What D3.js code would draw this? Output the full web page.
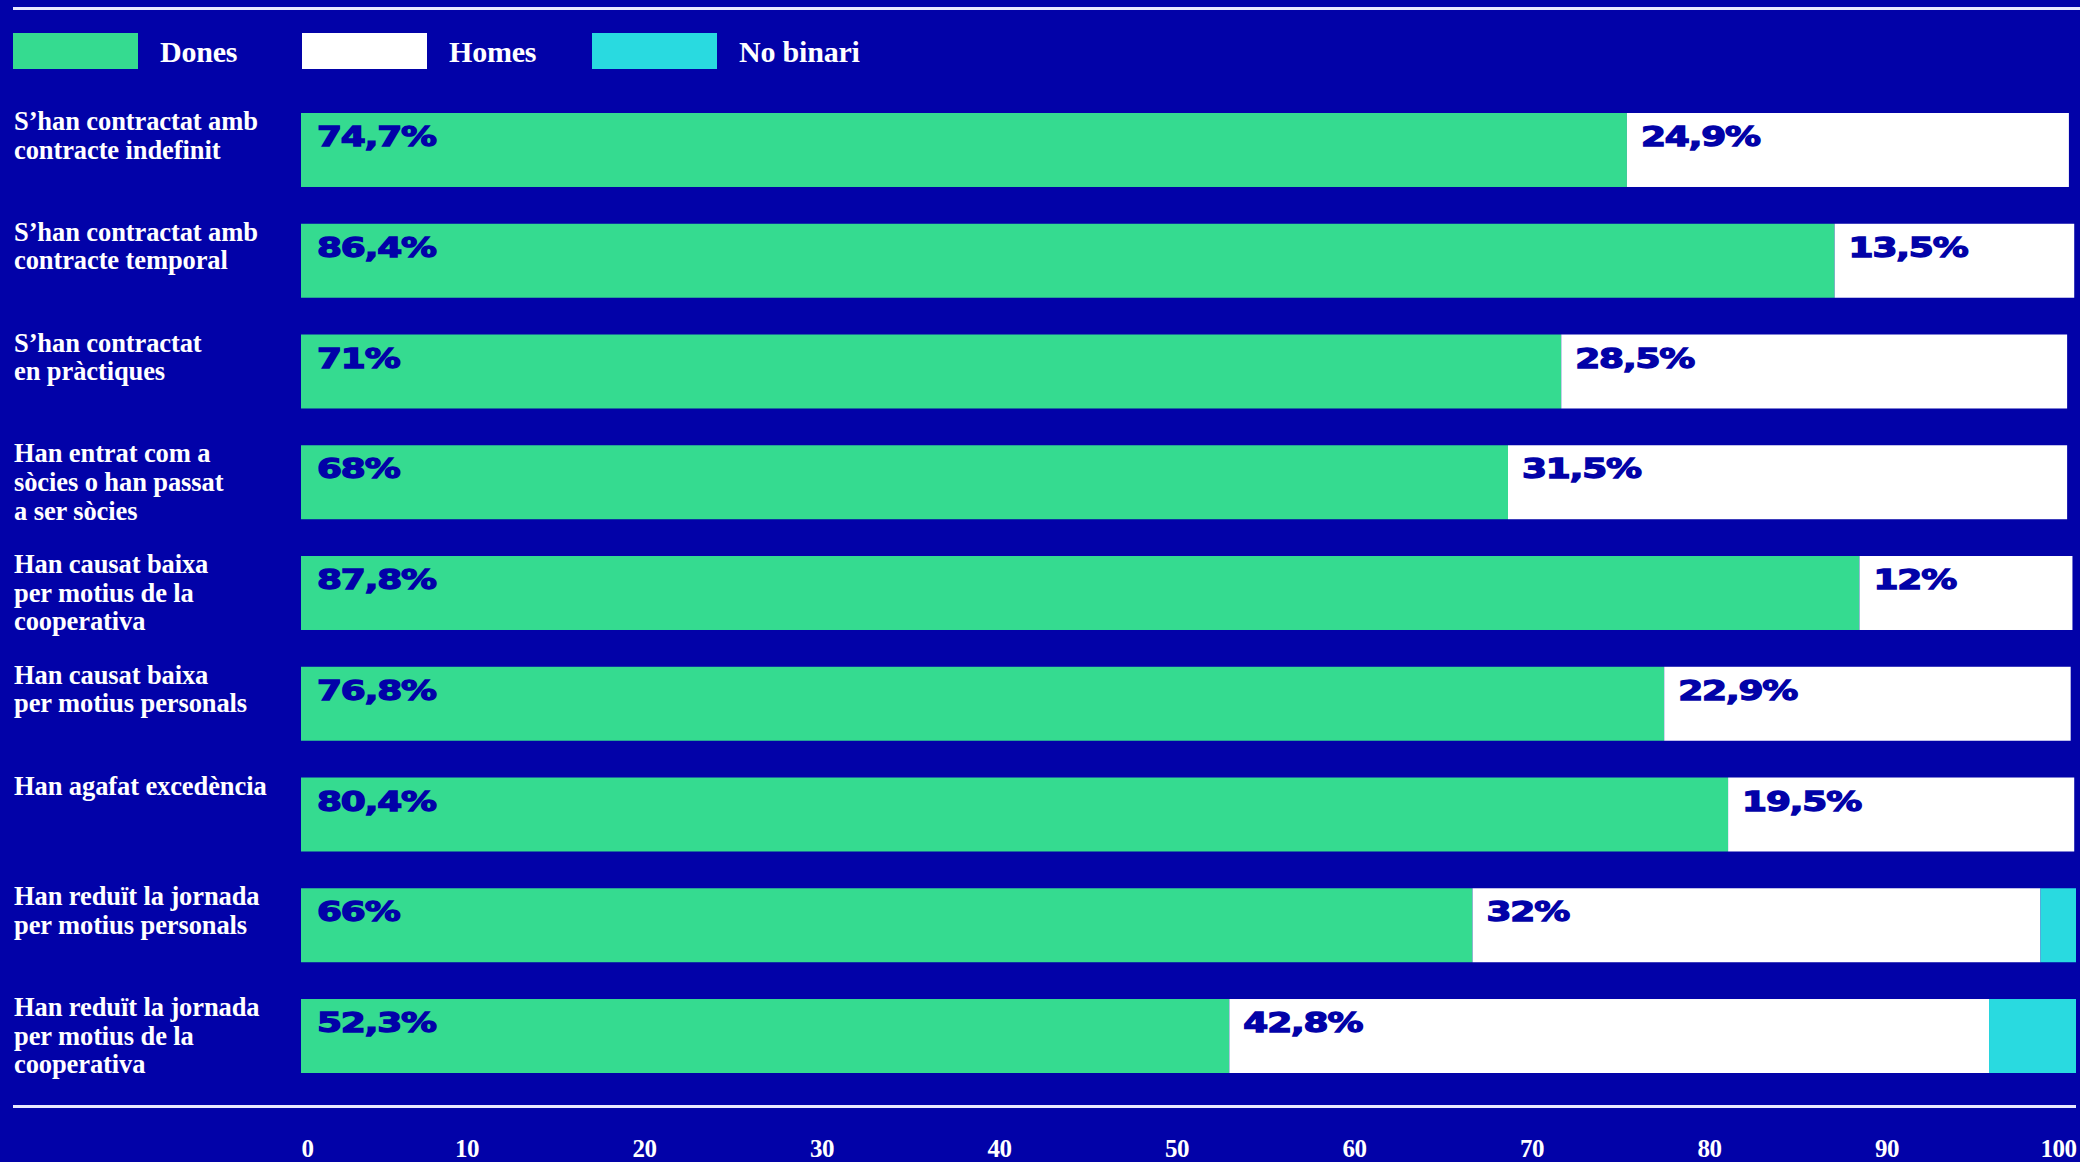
<!DOCTYPE html>
<html><head><meta charset="utf-8">
<script src="https://cdn.jsdelivr.net/npm/d3@7"></script>
<style>
html,body{margin:0;padding:0;background:#0202a8;}
svg{display:block;}
</style></head>
<body>
<script>
const categories = [
  "S’han contractat amb\ncontracte indefinit",
  "S’han contractat amb\ncontracte temporal",
  "S’han contractat\nen pràctiques",
  "Han entrat com a\nsòcies o han passat\na ser sòcies",
  "Han causat baixa\nper motius de la\ncooperativa",
  "Han causat baixa\nper motius personals",
  "Han agafat excedència",
  "Han reduït la jornada\nper motius personals",
  "Han reduït la jornada\nper motius de la\ncooperativa"
];
const dones = [74.7, 86.4, 71, 68, 87.8, 76.8, 80.4, 66, 52.3];
const homes = [24.9, 13.5, 28.5, 31.5, 12, 22.9, 19.5, 32, 42.8];
const noBinari = [0, 0, 0, 0, 0, 0, 0, 2, 4.9];
const seriesNames = ["Dones", "Homes", "No binari"];
const tickValues = [0, 10, 20, 30, 40, 50, 60, 70, 80, 90, 100];

const W = 2080, H = 1162;
const BG = "#0202a8", GREEN = "#35db90", WHITE = "#ffffff", CYAN = "#29dae0";
const colors = [GREEN, WHITE, CYAN];

const svg = d3.select("body").append("svg").attr("width", W).attr("height", H);
svg.append("rect").attr("width", W).attr("height", H).attr("fill", BG);

const x = d3.scaleLinear().domain([0, 100]).range([301, 2076]);
const y = d3.scaleBand().domain(categories).range([113, 1073]).paddingInner(0.332).paddingOuter(0);

const rows = categories.map((c, i) => ({cat: c, "Dones": dones[i], "Homes": homes[i], "No binari": noBinari[i]}));
const stack = d3.stack().keys(seriesNames)(rows);

// top & bottom rules
svg.append("line").attr("x1", 13).attr("x2", W).attr("y1", 8.5).attr("y2", 8.5)
  .attr("stroke", "#e8e8ff").attr("stroke-width", 3);
svg.append("line").attr("x1", 13).attr("x2", 2076).attr("y1", 1106.5).attr("y2", 1106.5)
  .attr("stroke", "#e8e8ff").attr("stroke-width", 3);

// legend
const legendX = [13, 302, 592];
const lg = svg.append("g");
seriesNames.forEach((s, i) => {
  lg.append("rect").attr("x", legendX[i]).attr("y", 33).attr("width", 125).attr("height", 36).attr("fill", colors[i]);
  lg.append("text").attr("x", legendX[i] + 147).attr("y", 62).text(s)
    .attr("fill", WHITE).attr("font-family", "Liberation Serif, serif").attr("font-weight", "bold")
    .attr("font-size", 30).attr("letter-spacing", -0.2);
});

// bars
stack.forEach((layer, si) => {
  svg.append("g").selectAll("rect").data(layer).join("rect")
    .attr("x", d => x(d[0]))
    .attr("y", d => y(d.data.cat))
    .attr("width", d => Math.max(0, x(d[1]) - x(d[0])))
    .attr("height", y.bandwidth())
    .attr("fill", colors[si]);
});

// value labels (Dones & Homes)
const fmt = v => String(v).replace(".", ",") + "%";
[0, 1].forEach(si => {
  const off = si === 0 ? 16 : 14;
  svg.append("g").selectAll("text").data(stack[si]).join("text")
    .attr("transform", d => `translate(${x(d[0]) + off},${y(d.data.cat) + 33}) scale(1.38,1)`)
    .text(d => fmt(+(d[1] - d[0]).toFixed(1)))
    .attr("fill", BG).attr("stroke", BG).attr("stroke-width", 1.3)
    .attr("font-family", "DejaVu Sans, sans-serif").attr("font-weight", "bold")
    .attr("font-size", 26).attr("letter-spacing", -0.8);
});

// category labels
const cg = svg.append("g");
categories.forEach(c => {
  const t = cg.append("text").attr("x", 14).attr("y", y(c) + 17)
    .attr("fill", WHITE).attr("font-family", "Liberation Serif, serif").attr("font-weight", "bold")
    .attr("font-size", 26.5).attr("letter-spacing", -0.1);
  c.split("\n").forEach((ln, k) => {
    t.append("tspan").attr("x", 14).attr("dy", k === 0 ? 0 : 28.7).text(ln);
  });
});

// x axis
const axis = d3.axisBottom(x).tickValues(tickValues).tickSize(0).tickPadding(0).tickFormat(d3.format("d"));
const ax = svg.append("g").attr("transform", "translate(0,1138)").call(axis);
ax.select(".domain").remove();
ax.selectAll("text")
  .attr("fill", WHITE).attr("font-family", "Liberation Serif, serif").attr("font-weight", "bold")
  .attr("font-size", 25).attr("letter-spacing", -0.5)
  .attr("dy", 0).attr("y", 19)
  .attr("text-anchor", d => d === 0 ? "start" : "end");
</script>
</body></html>
